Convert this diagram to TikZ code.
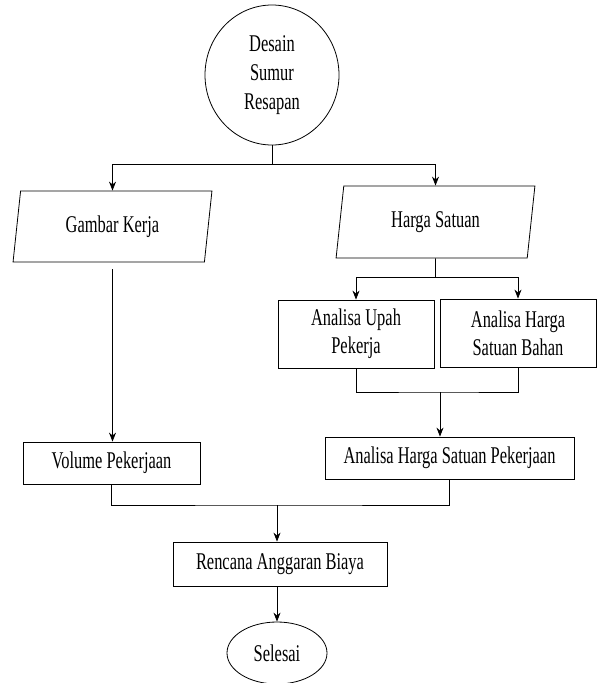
\documentclass[tikz,border=0pt]{standalone}
\usepackage{fontspec}
\setmainfont[FakeStretch=0.685]{Liberation Serif}
\usetikzlibrary{shapes.geometric,arrows.meta}
\tikzset{
  kotak/.style={draw, rectangle, align=center, inner sep=0pt},
  jajar/.style={draw, trapezium, trapezium left angle=80, trapezium right angle=100,
    trapezium stretches=true, inner sep=0pt},
  tulisan/.style={font=\fontsize{24}{28}\selectfont},
}
\begin{document}
\begin{tikzpicture}[x=1pt,y=-1pt,line width=0.8pt,>={Stealth[length=9pt,width=7pt]},
    every node/.style={tulisan}]
        \useasboundingbox (0,0) rectangle (599,683);
        %%%%%%%%%% Nodi %%%%%%%%%%
        \node[draw, ellipse, minimum width=134, minimum height=140, align=center,
          font=\fontsize{24}{29}\selectfont] (desain) at (272,75) {Desain\\Sumur\\Resapan};
        \node[jajar, minimum width=199, minimum height=71] (gambar) at (112.5,226.5) {Gambar Kerja};
        \node[jajar, minimum width=199, minimum height=72] (harga) at (435.5,222) {Harga Satuan};
        \node[kotak, minimum width=156, minimum height=68] (upah) at (356,334) {Analisa Upah\\Pekerja};
        \node[kotak, minimum width=156, minimum height=68] (bahan) at (518,333) {Analisa Harga\\Satuan Bahan};
        \node[kotak, minimum width=249, minimum height=42] (ahsp) at (449.5,458) {Analisa Harga Satuan Pekerjaan};
        \node[kotak, minimum width=177, minimum height=42] (volume) at (111.5,463) {Volume Pekerjaan};
        \node[kotak, minimum width=214, minimum height=44] (rab) at (280,564) {Rencana Anggaran Biaya};
        \node[draw, ellipse, minimum width=100, minimum height=62] (selesai) at (277,653) {Selesai};

        %%%%%%%%% Frecce %%%%%%%%%
        \coordinate (c1) at (272,164);
        \draw (desain.south) -- (c1);
        \draw[->] (c1) -| (gambar.north);
        \draw[->] (c1) -| (harga.north);
        \coordinate (c2) at (435.5,277);
        \draw (harga.south) -- (c2);
        \draw[->] (c2) -| (upah.north);
        \draw[->] (c2) -| (bahan.north);
        \coordinate (c3) at (440,392);
        \draw (upah.south) |- (c3) -| (bahan.south);
        \draw[->] (c3) -- (c3 |- ahsp.north);
        \draw[->,shorten <=7pt] (gambar.south) -- (gambar.south |- volume.north);
        \coordinate (c4) at (277,505);
        \draw (volume.south) |- (c4) -| (ahsp.south);
        \draw[->] (c4) -- (c4 |- rab.north);
        \draw[->] (c4 |- rab.south) -- (selesai.north);
    \end{tikzpicture}
\end{document}
